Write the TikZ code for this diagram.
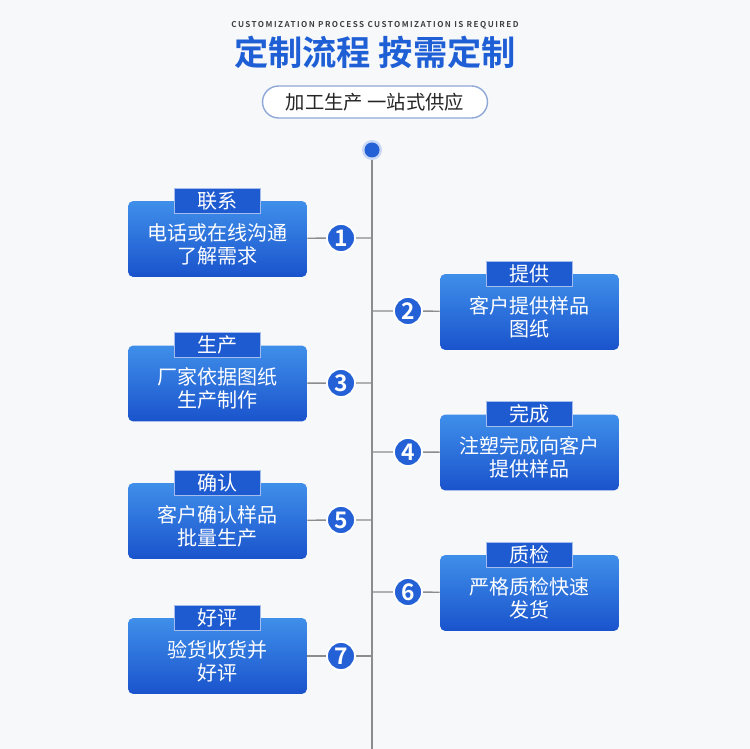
\documentclass[tikz,border=0pt]{standalone}
\usepackage{fontspec}
\setmainfont{Noto Sans CJK SC}[BoldFont={Noto Sans CJK SC Bold}]
\usetikzlibrary{positioning}
\definecolor{titleblue}{HTML}{1F5FD6}
\definecolor{boxtop}{HTML}{3F8FEA}
\definecolor{boxbot}{HTML}{1A53CC}
\definecolor{tabblue}{HTML}{1E5BD0}
\definecolor{dotblue}{HTML}{2460D6}
\definecolor{spinegray}{HTML}{8C8C8C}
\definecolor{pagebg}{HTML}{F7F8FA}
\definecolor{pillline}{HTML}{8FA8D8}
\tikzstyle{card} = [
  rectangle,
  rounded corners=3pt,
  minimum width=3.58cm,
  minimum height=1.52cm,
  top color=boxtop,
  bottom color=boxbot
]
\tikzstyle{cardtext} = [
  align=center,
  inner sep=0pt,
  text=white,
  font=\fontsize{11.4}{13}\selectfont
]
\tikzstyle{tab} = [
  rectangle,
  minimum width=1.72cm,
  minimum height=0.5cm,
  inner sep=0pt,
  fill=tabblue,
  draw=white!60!tabblue,
  line width=0.6pt,
  text=white,
  font=\fontsize{11.4}{12}\selectfont
]
\tikzstyle{num} = [
  circle,
  minimum size=0.56cm,
  inner sep=0pt,
  fill=dotblue,
  draw=white,
  line width=1pt,
  text=white,
  font=\fontsize{13}{13}\selectfont\bfseries
]
\tikzstyle{link} = [draw=spinegray, line width=0.8pt]
\pgfdeclarelayer{background}
\pgfdeclarelayer{paper}
\pgfsetlayers{paper,background,main}

\begin{document}
\begin{tikzpicture}[x=0.02cm, y=-0.02cm]
    \begin{pgfonlayer}{paper}
      \fill [pagebg] (0,0) rectangle (750,749);
    \end{pgfonlayer}
    \useasboundingbox (0,0) rectangle (750,749);

    % heading
    \node (sub-en) at (375,25) [text=black!75, font=\fontsize{4.6}{5}\selectfont\bfseries\addfontfeature{LetterSpace=18}] {CUSTOMIZATION PROCESS CUSTOMIZATION IS REQUIRED};
    \node (title) at (375,52) [text=titleblue, font=\fontsize{19.5}{21}\selectfont\bfseries] {定制流程 按需定制};
    \node (slogan) at (375,102) [rectangle, rounded corners=0.32cm, minimum width=4.5cm, minimum height=0.64cm, draw=pillline, fill=white, line width=0.8pt, text=black!85, font=\fontsize{11}{12}\selectfont] {加工生产 一站式供应};

    % spine
    \coordinate (top) at (372,150);
    \coordinate (bottom) at (372,749);
    \node (dot) at (top) [circle, minimum size=0.4cm, inner sep=0pt, fill=dotblue!25] {};
    \node (dot-core) at (top) [circle, minimum size=0.3cm, inner sep=0pt, fill=dotblue] {};

    % steps
    \node (card1) at (217.5,239) [card] {};
    \node (text1) at ([yshift=-0.1cm]card1.center) [cardtext] {电话或在线沟通\\了解需求};
    \node (tab1) at (card1.north) [tab] {联系};
    \node (n1) at (341,238) [num] {1};

    \node (card2) at (529.5,312) [card] {};
    \node (text2) at ([yshift=-0.1cm]card2.center) [cardtext] {客户提供样品\\图纸};
    \node (tab2) at (card2.north) [tab] {提供};
    \node (n2) at (408,311) [num] {2};

    \node (card3) at (217.5,383.5) [card] {};
    \node (text3) at ([yshift=-0.1cm]card3.center) [cardtext] {厂家依据图纸\\生产制作};
    \node (tab3) at (card3.north) [tab] {生产};
    \node (n3) at (341,383) [num] {3};

    \node (card4) at (529.5,452.5) [card] {};
    \node (text4) at ([yshift=-0.1cm]card4.center) [cardtext] {注塑完成向客户\\提供样品};
    \node (tab4) at (card4.north) [tab] {完成};
    \node (n4) at (408,452) [num] {4};

    \node (card5) at (217.5,521) [card] {};
    \node (text5) at ([yshift=-0.1cm]card5.center) [cardtext] {客户确认样品\\批量生产};
    \node (tab5) at (card5.north) [tab] {确认};
    \node (n5) at (341,520) [num] {5};

    \node (card6) at (529.5,593) [card] {};
    \node (text6) at ([yshift=-0.1cm]card6.center) [cardtext] {严格质检快速\\发货};
    \node (tab6) at (card6.north) [tab] {质检};
    \node (n6) at (408,592) [num] {6};

    \node (card7) at (217.5,656) [card] {};
    \node (text7) at ([yshift=-0.1cm]card7.center) [cardtext] {验货收货并\\好评};
    \node (tab7) at (card7.north) [tab] {好评};
    \node (n7) at (341,656) [num] {7};

    \begin{pgfonlayer}{background}
      \draw [link] (top) -- (bottom);
      \draw [link] (card1) -- (n1) -- (n1 -| top);
      \draw [link] (card2) -- (n2) -- (n2 -| top);
      \draw [link] (card3) -- (n3) -- (n3 -| top);
      \draw [link] (card4) -- (n4) -- (n4 -| top);
      \draw [link] (card5) -- (n5) -- (n5 -| top);
      \draw [link] (card6) -- (n6) -- (n6 -| top);
      \draw [link] (card7) -- (n7) -- (n7 -| top);
    \end{pgfonlayer}
  \end{tikzpicture}
\end{document}
